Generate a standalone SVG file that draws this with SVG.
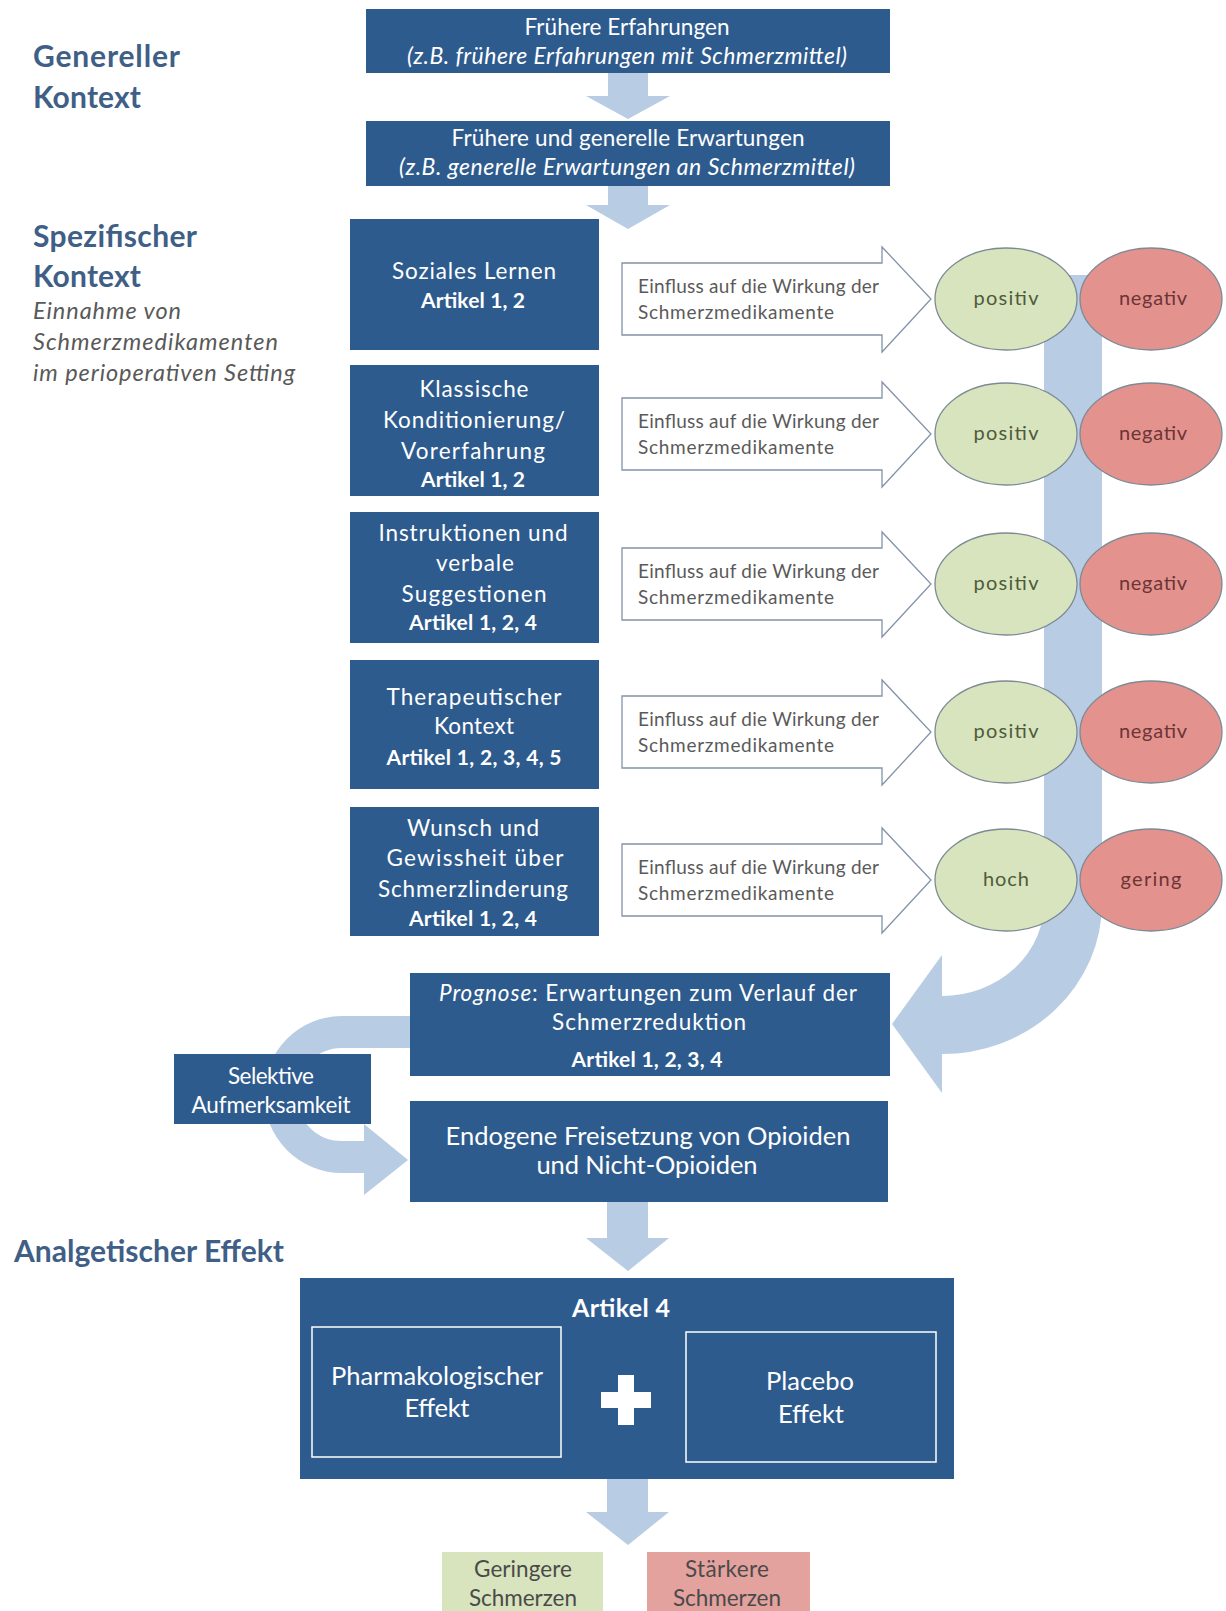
<svg xmlns="http://www.w3.org/2000/svg" width="1226" height="1611" viewBox="0 0 1226 1611">
<defs>
<style>
.box{fill:#2e5b8e}
.wt{fill:#ffffff;font-family:Lato,"Open Sans",sans-serif;font-size:22.5px;text-anchor:middle}
.it{font-style:italic;font-size:23px}
.bd{font-weight:bold;font-size:21px}
.hd{fill:#3f5f87;font-family:Lato,"Open Sans",sans-serif;font-size:30px;font-weight:bold}
.sub{fill:#595959;font-family:Lato,"Open Sans",sans-serif;font-size:23.5px;font-style:italic}
.band{fill:none;stroke:#b8cce4}
.bfill{fill:#b8cce4}
.barrow{fill:#ffffff;stroke:#8393a8;stroke-width:1.3}
.at{fill:#5a5a5a;font-family:Lato,"Open Sans",sans-serif;font-size:19px}
.eg{fill:#d7e4bd;stroke:#7d8a95;stroke-width:1.3}
.er{fill:#e4928e;stroke:#7d8a95;stroke-width:1.3}
.et{font-family:Lato,"Open Sans",sans-serif;font-size:20px;text-anchor:middle}
.dt{fill:#4a4a4a;font-family:Lato,"Open Sans",sans-serif;font-size:22.5px;text-anchor:middle}
.big{font-size:25.5px}
</style>
<polygon id="blk" points="0,-36 260,-36 260,-52 309,0 260,53 260,36 0,36"/>
</defs>

<!-- headings -->
<g id="heading-general">
<text class="hd" x="33" y="67" textLength="147">Genereller</text>
<text class="hd" x="33" y="108" textLength="108">Kontext</text>
</g>
<g id="heading-specific">
<text class="hd" x="33" y="247" textLength="164">Spezifischer</text>
<text class="hd" x="33" y="287" textLength="108">Kontext</text>
<text class="sub" x="33" y="319" textLength="148">Einnahme von</text>
<text class="sub" x="33" y="350" textLength="245">Schmerzmedikamenten</text>
<text class="sub" x="33" y="381" textLength="262">im perioperativen Setting</text>
</g>
<g id="heading-analgetic">
<text class="hd" x="14" y="1262" textLength="270">Analgetischer Effekt</text>
</g>

<!-- connectors -->
<g id="connectors">
<path class="bfill" d="M608,73 H648 V96 H670 L628,119 L586,96 H608 Z"/>
<path class="bfill" d="M608,186 H648 V205 H670 L628,229 L586,205 H608 Z"/>
<path class="band" stroke-width="58" d="M1073,275 V903 A131,122 0 0 1 942,1025"/>
<polygon class="bfill" points="942,955 942,1093 892,1024"/>
<path class="band" stroke-width="32" d="M412,1032 H342 A62,62.5 0 0 0 342,1157 H366"/>
<polygon class="bfill" points="364,1124 364,1195 408,1160"/>
<path class="bfill" d="M607,1202 H648 V1238 H669 L628,1271 L586,1238 H607 Z"/>
<path class="bfill" d="M607,1479 H648 V1512 H669 L628,1545 L586,1512 H607 Z"/>
</g>

<!-- general context -->
<g id="n-frueher-erfahrungen">
<rect class="box" x="366" y="9" width="524" height="64"/>
<text class="wt" x="627" y="35" textLength="205">Frühere Erfahrungen</text>
<text class="wt it" x="627" y="64" textLength="440">(z.B. frühere Erfahrungen mit Schmerzmittel)</text>
</g>
<g id="n-frueher-erwartungen">
<rect class="box" x="366" y="121" width="524" height="65"/>
<text class="wt" x="628" y="146" textLength="353">Frühere und generelle Erwartungen</text>
<text class="wt it" x="627" y="175" textLength="456">(z.B. generelle Erwartungen an Schmerzmittel)</text>
</g>

<!-- specific context boxes -->
<g id="n-soziales-lernen">
<rect class="box" x="350" y="219" width="249" height="131"/>
<text class="wt" x="474" y="279" textLength="164">Soziales Lernen</text>
<text class="wt bd" x="473" y="308" textLength="104">Artikel 1, 2</text>
</g>
<g id="n-klassische">
<rect class="box" x="350" y="365" width="249" height="131"/>
<text class="wt" x="474" y="397" textLength="109">Klassische</text>
<text class="wt" x="474" y="428" textLength="182">Konditionierung/</text>
<text class="wt" x="473" y="459" textLength="144">Vorerfahrung</text>
<text class="wt bd" x="473" y="487" textLength="104">Artikel 1, 2</text>
</g>
<g id="n-instruktionen">
<rect class="box" x="350" y="512" width="249" height="131"/>
<text class="wt" x="473" y="541" textLength="189">Instruktionen und</text>
<text class="wt" x="475" y="571" textLength="78">verbale</text>
<text class="wt" x="474" y="602" textLength="145">Suggestionen</text>
<text class="wt bd" x="473" y="630" textLength="128">Artikel 1, 2, 4</text>
</g>
<g id="n-therapeutisch">
<rect class="box" x="350" y="660" width="249" height="129"/>
<text class="wt" x="474" y="705" textLength="175">Therapeutischer</text>
<text class="wt" x="474" y="734" textLength="80">Kontext</text>
<text class="wt bd" x="474" y="765" textLength="175">Artikel 1, 2, 3, 4, 5</text>
</g>
<g id="n-wunsch">
<rect class="box" x="350" y="807" width="249" height="129"/>
<text class="wt" x="473" y="836" textLength="132">Wunsch und</text>
<text class="wt" x="475" y="866" textLength="177">Gewissheit über</text>
<text class="wt" x="473" y="897" textLength="190">Schmerzlinderung</text>
<text class="wt bd" x="473" y="926" textLength="128">Artikel 1, 2, 4</text>
</g>

<!-- influence arrows -->
<g id="n-einfluss-1">
<use href="#blk" class="barrow" x="622" y="299"/>
<text class="at" x="638" y="293" textLength="241">Einfluss auf die Wirkung der</text>
<text class="at" x="638" y="319" textLength="196">Schmerzmedikamente</text>
</g>
<g id="n-einfluss-2">
<use href="#blk" class="barrow" x="622" y="434"/>
<text class="at" x="638" y="428" textLength="241">Einfluss auf die Wirkung der</text>
<text class="at" x="638" y="454" textLength="196">Schmerzmedikamente</text>
</g>
<g id="n-einfluss-3">
<use href="#blk" class="barrow" x="622" y="584"/>
<text class="at" x="638" y="578" textLength="241">Einfluss auf die Wirkung der</text>
<text class="at" x="638" y="604" textLength="196">Schmerzmedikamente</text>
</g>
<g id="n-einfluss-4">
<use href="#blk" class="barrow" x="622" y="732"/>
<text class="at" x="638" y="726" textLength="241">Einfluss auf die Wirkung der</text>
<text class="at" x="638" y="752" textLength="196">Schmerzmedikamente</text>
</g>
<g id="n-einfluss-5">
<use href="#blk" class="barrow" x="622" y="880"/>
<text class="at" x="638" y="874" textLength="241">Einfluss auf die Wirkung der</text>
<text class="at" x="638" y="900" textLength="196">Schmerzmedikamente</text>
</g>

<!-- ellipses -->
<g id="n-pos-1"><ellipse class="eg" cx="1006" cy="299" rx="71" ry="51"/><text class="et" x="1006" y="305" fill="#4f5a3a" textLength="65">positiv</text></g>
<g id="n-neg-1"><ellipse class="er" cx="1151" cy="299" rx="71" ry="51"/><text class="et" x="1153" y="305" fill="#6b3535" textLength="68">negativ</text></g>
<g id="n-pos-2"><ellipse class="eg" cx="1006" cy="434" rx="71" ry="51"/><text class="et" x="1006" y="440" fill="#4f5a3a" textLength="65">positiv</text></g>
<g id="n-neg-2"><ellipse class="er" cx="1151" cy="434" rx="71" ry="51"/><text class="et" x="1153" y="440" fill="#6b3535" textLength="68">negativ</text></g>
<g id="n-pos-3"><ellipse class="eg" cx="1006" cy="584" rx="71" ry="51"/><text class="et" x="1006" y="590" fill="#4f5a3a" textLength="65">positiv</text></g>
<g id="n-neg-3"><ellipse class="er" cx="1151" cy="584" rx="71" ry="51"/><text class="et" x="1153" y="590" fill="#6b3535" textLength="68">negativ</text></g>
<g id="n-pos-4"><ellipse class="eg" cx="1006" cy="732" rx="71" ry="51"/><text class="et" x="1006" y="738" fill="#4f5a3a" textLength="65">positiv</text></g>
<g id="n-neg-4"><ellipse class="er" cx="1151" cy="732" rx="71" ry="51"/><text class="et" x="1153" y="738" fill="#6b3535" textLength="68">negativ</text></g>
<g id="n-hoch"><ellipse class="eg" cx="1006" cy="880" rx="71" ry="51"/><text class="et" x="1006" y="886" fill="#4f5a3a" textLength="46">hoch</text></g>
<g id="n-gering"><ellipse class="er" cx="1151" cy="880" rx="71" ry="51"/><text class="et" x="1151" y="886" fill="#6b3535" textLength="61">gering</text></g>

<!-- lower flow -->
<g id="n-prognose">
<rect class="box" x="410" y="973" width="480" height="103"/>
<text class="wt" x="648" y="1001" textLength="418"><tspan style="font-style:italic">Prognose</tspan>: Erwartungen zum Verlauf der</text>
<text class="wt" x="649" y="1030" textLength="194">Schmerzreduktion</text>
<text class="wt bd" x="647" y="1067" textLength="151">Artikel 1, 2, 3, 4</text>
</g>
<g id="n-selektiv">
<rect class="box" x="174" y="1054" width="197" height="70"/>
<text class="wt" x="271" y="1084" textLength="86">Selektive</text>
<text class="wt" x="271" y="1113" textLength="159">Aufmerksamkeit</text>
</g>
<g id="n-endogen">
<rect class="box" x="410" y="1101" width="478" height="101"/>
<text class="wt big" x="648" y="1145" textLength="405">Endogene Freisetzung von Opioiden</text>
<text class="wt big" x="647" y="1174" textLength="221">und Nicht-Opioiden</text>
</g>

<g id="n-artikel4">
<rect class="box" x="300" y="1278" width="654" height="201"/>
<text class="wt bd" x="621" y="1317" style="font-size:25px" textLength="98">Artikel 4</text>
<rect x="312" y="1327" width="249" height="130" fill="none" stroke="#ffffff" stroke-width="1.5"/>
<text class="wt big" x="437" y="1385" textLength="212">Pharmakologischer</text>
<text class="wt big" x="437" y="1417" textLength="65">Effekt</text>
<rect x="686" y="1332" width="250" height="130" fill="none" stroke="#ffffff" stroke-width="1.5"/>
<text class="wt big" x="810" y="1390" textLength="88">Placebo</text>
<text class="wt big" x="811" y="1423" textLength="66">Effekt</text>
<path d="M618,1375 H634 V1392 H651 V1408 H634 V1425 H618 V1408 H601 V1392 H618 Z" fill="#ffffff"/>
</g>

<g id="n-geringere">
<rect x="442" y="1552" width="161" height="59" fill="#d7e4bd"/>
<text class="dt" x="523" y="1577" textLength="98">Geringere</text>
<text class="dt" x="523" y="1606" textLength="108">Schmerzen</text>
</g>
<g id="n-staerkere">
<rect x="647" y="1552" width="163" height="59" fill="#e3a29e"/>
<text class="dt" x="727" y="1577" textLength="84">Stärkere</text>
<text class="dt" x="727" y="1606" textLength="108">Schmerzen</text>
</g>
</svg>
